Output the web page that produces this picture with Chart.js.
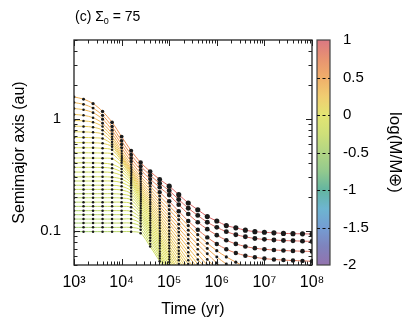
<!DOCTYPE html>
<html><head><meta charset="utf-8">
<script src="https://cdn.jsdelivr.net/npm/chart.js@4"></script>
<style>html,body{margin:0;padding:0;background:#fff}#wrap{width:407px;height:325px;position:relative}</style>
</head><body><div id="wrap"><canvas id="c"></canvas></div>
<script>
// ---- data ----
const timeYr = [1e3,1.585e3,2.512e3,3.981e3,6.31e3,1e4,1.585e4,2.512e4,3.981e4,6.31e4,1e5,1.585e5,2.512e5,3.981e5,6.31e5,1e6,1.585e6,2.512e6,3.981e6,6.31e6,1e7,1.585e7,2.512e7,3.981e7,6.31e7,1e8];
const xTickValues = [1e3,1e4,1e5,1e6,1e7,1e8];
const xTickText = ['10³','10⁴','10⁵','10⁶','10⁷','10⁸'];
const yTickValues = [0.1,1];
const yTickText = ['0.1','1'];
const massTickValues = [-2,-1.5,-1,-0.5,0,0.5,1];
const massTickText = ['-2','-1.5','-1','-0.5','0','0.5','1'];

const p01 = [1.56,1.49,1.36,1.16,0.927,0.692,0.518,0.407,0.339,0.288,0.251,0.211,0.178,0.155,0.135,0.123,0.112,0.107,0.102,0.0989,0.0977,0.0966,0.0955,0.095,0.0946,0.0944];
const p02 = [1.39,1.34,1.24,1.07,0.85,0.635,0.478,0.377,0.314,0.266,0.229,0.191,0.16,0.138,0.12,0.108,0.099,0.093,0.089,0.086,0.0845,0.0835,0.0825,0.082,0.0815,0.081];
const p03 = [1.23,1.2,1.13,0.99,0.79,0.59,0.445,0.35,0.29,0.245,0.209,0.172,0.142,0.12,0.104,0.092,0.083,0.077,0.073,0.0705,0.069,0.068,0.0673,0.0667,0.0663,0.066];
const p04 = [1.09,1.07,1.02,0.91,0.735,0.55,0.415,0.325,0.268,0.222,0.184,0.15,0.123,0.103,0.088,0.077,0.069,0.064,0.0605,0.0585,0.057,0.056,0.0553,0.0548,0.0544,0.054];
const p05 = [0.962,0.955,0.93,0.85,0.69,0.515,0.39,0.305,0.25,0.205,0.168,0.137,0.112,0.093,0.078,0.067,0.059,0.053,0.048,0.044];
const p06 = [0.857,0.853,0.84,0.79,0.655,0.49,0.37,0.29,0.235,0.19,0.155,0.126,0.102,0.084,0.07,0.059,0.051,0.045];
const p07 = [0.764,0.762,0.755,0.73,0.62,0.468,0.355,0.276,0.222,0.178,0.143,0.115,0.093,0.076,0.063,0.052,0.044];
const p08 = [0.681,0.68,0.676,0.665,0.59,0.453,0.343,0.264,0.21,0.167,0.133,0.106,0.085,0.069,0.056,0.046];
const p09 = [0.612,0.611,0.609,0.603,0.563,0.438,0.333,0.253,0.2,0.157,0.124,0.098,0.078,0.062,0.05,0.041];
const p10 = [0.552,0.551,0.55,0.545,0.528,0.422,0.322,0.243,0.19,0.148,0.116,0.091,0.071,0.056,0.045];
const p11 = [0.497,0.497,0.496,0.494,0.486,0.405,0.312,0.234,0.181,0.14,0.108,0.084,0.065,0.051,0.041];
const p12 = [0.447,0.447,0.446,0.445,0.44,0.382,0.3,0.225,0.173,0.132,0.101,0.078,0.06,0.047];
const p13 = [0.405,0.405,0.404,0.402,0.392,0.357,0.29,0.216,0.165,0.125,0.095,0.072,0.055,0.043];
const p14 = [0.369,0.369,0.369,0.368,0.362,0.335,0.279,0.208,0.157,0.118,0.089,0.067,0.051,0.039];
const p15 = [0.335,0.335,0.335,0.335,0.332,0.312,0.268,0.2,0.15,0.112,0.084,0.063,0.047];
const p16 = [0.304,0.304,0.304,0.304,0.302,0.29,0.256,0.192,0.143,0.106,0.079,0.059,0.044];
const p17 = [0.279,0.279,0.279,0.279,0.279,0.27,0.243,0.184,0.136,0.1,0.074,0.055,0.041];
const p18 = [0.256,0.256,0.256,0.256,0.256,0.25,0.229,0.176,0.13,0.095,0.07,0.051,0.038];
const p19 = [0.235,0.235,0.235,0.235,0.235,0.232,0.216,0.168,0.124,0.09,0.066,0.048];
const p20 = [0.215,0.215,0.215,0.215,0.215,0.213,0.203,0.16,0.118,0.086,0.062,0.045];
const p21 = [0.198,0.198,0.198,0.198,0.198,0.197,0.19,0.152,0.112,0.082,0.059,0.043];
const p22 = [0.181,0.181,0.181,0.181,0.181,0.181,0.176,0.145,0.107,0.078,0.056,0.041];
const p23 = [0.166,0.166,0.166,0.166,0.166,0.166,0.163,0.138,0.102,0.074,0.053,0.039];
const p24 = [0.152,0.152,0.152,0.152,0.152,0.152,0.15,0.131,0.097,0.07,0.05,0.037];
const p25 = [0.14,0.14,0.14,0.14,0.14,0.14,0.139,0.124,0.092,0.066,0.047];
const p26 = [0.128,0.128,0.128,0.128,0.128,0.128,0.128,0.117,0.087,0.063,0.045];
const p27 = [0.118,0.118,0.118,0.118,0.118,0.118,0.118,0.11,0.082,0.06,0.043];
const p28 = [0.108,0.108,0.108,0.108,0.108,0.108,0.108,0.103,0.077,0.057,0.041];
const p29 = [0.099,0.099,0.099,0.099,0.099,0.099,0.099,0.096,0.073,0.054,0.039];
const orbits = [p01,p02,p03,p04,p05,p06,p07,p08,p09,p10,p11,p12,p13,p14,p15,p16,p17,p18,p19,p20,p21,p22,p23,p24,p25,p26,p27,p28,p29];

// log10(M/Mearth) at start and late in each track
const massStart = [0.4,0.35,0.3,0.25,0.2,0.15,0.1,0.05,0,-0.05,-0.1,-0.12,-0.15,-0.18,-0.2,-0.22,-0.25,-0.27,-0.3,-0.32,-0.35,-0.37,-0.4,-0.42,-0.45,-0.47,-0.5,-0.52,-0.55];
const massEnd = [0.95,0.9,0.85,0.8,0.5,0.45,0.45,0.4,0.4,0.35,0.3,0.3,0.25,0.22,0.2,0.18,0.16,0.14,0.12,0.1,0.08,0.06,0.04,0.02,0,-0.02,-0.04,-0.06,-0.08];

// ---- style ----
const FONT = '"Liberation Sans", Arial, Helvetica, sans-serif';
const cmapStops = [[-2,[128,90,160]],[-1.75,[104,110,178]],[-1.5,[92,140,204]],[-1.25,[84,168,200]],[-1,[72,168,144]],[-0.75,[128,192,122]],[-0.5,[164,206,110]],[-0.25,[198,218,98]],[0,[222,224,90]],[0.25,[238,196,88]],[0.5,[238,160,80]],[0.75,[228,128,88]],[1,[212,96,108]]];
function cmap(m, a){
  m = Math.max(-2, Math.min(1, m));
  for (let k=0;k<cmapStops.length-1;k++){
    const [m0,c0]=cmapStops[k],[m1,c1]=cmapStops[k+1];
    if (m<=m1){ const f=(m-m0)/(m1-m0); const c=c0.map((v,q)=>Math.round(v+(c1[q]-v)*f)); return `rgba(${c[0]},${c[1]},${c[2]},${a===undefined?1:a})`; }
  }
  const c=cmapStops[cmapStops.length-1][1]; return `rgb(${c[0]},${c[1]},${c[2]})`;
}
function massAt(i,j){ const f=Math.min(1,j/10); return massStart[i]+(massEnd[i]-massStart[i])*f; }

const datasets = orbits.map((orb,i)=>({
  data: orb.map((a,j)=>({x:timeYr[j], y:a})),
  borderWidth: 1,
  borderColor: cmap(massStart[i]),
  segment: { borderColor: ctx => cmap(massAt(i, ctx.p0DataIndex)) },
  pointRadius: ctx => { const m = massAt(i, ctx.dataIndex); return 1.25 + Math.max(0, m-0.35)*2.2; },
  pointBackgroundColor: '#1a1a1a',
  pointBorderWidth: 0,
  tension: 0.3,
  yAxisID: 'y', xAxisID: 'x'
}));
datasets.reverse();

const framePlugin = {
  id: 'frame',
  afterDatasetsDraw(chart){
    const {ctx, chartArea:{left,right,top,bottom}, scales:{x,y,cb}} = chart;
    ctx.save();
    ctx.strokeStyle = '#222'; ctx.lineWidth = 1;
    ctx.beginPath();
    for (let d=3; d<=8; d++) for (let k=1;k<10;k++){
      const v = k*Math.pow(10,d); if (v>1e8*1.0001) break;
      const px = Math.round(x.getPixelForValue(v))+0.5; const L = k===1?6:3.5;
      ctx.moveTo(px,bottom); ctx.lineTo(px,bottom-L);
      ctx.moveTo(px,top); ctx.lineTo(px,top+L);
    }
    for (let d=-2; d<=0; d++) for (let k=1;k<10;k++){
      const v = k*Math.pow(10,d); if (v<0.05-1e-9 || v>5+1e-9) continue;
      const py = Math.round(y.getPixelForValue(v))+0.5; const L = k===1?6:3.5;
      ctx.moveTo(left,py); ctx.lineTo(left+L,py);
      ctx.moveTo(right,py); ctx.lineTo(right-L,py);
    }
    ctx.stroke();
    ctx.lineWidth = 1.3;
    ctx.strokeRect(left, top, right-left, bottom-top);
    // colour bar
    const bx0 = right+5, bx1 = right+18;
    const g = ctx.createLinearGradient(0, cb.getPixelForValue(-2), 0, cb.getPixelForValue(1));
    cmapStops.forEach(([m])=> g.addColorStop((m+2)/3, cmap(m)));
    ctx.globalAlpha = 0.85;
    ctx.fillStyle = g;
    ctx.fillRect(bx0, top, bx1-bx0, bottom-top);
    ctx.globalAlpha = 1;
    ctx.strokeStyle = '#444'; ctx.lineWidth = 1.2;
    ctx.strokeRect(bx0, top, bx1-bx0, bottom-top);
    ctx.setLineDash([3,2.5]); ctx.strokeStyle='#111'; ctx.lineWidth=1;
    ctx.beginPath();
    massTickValues.slice(1,-1).forEach(m=>{ const py=Math.round(cb.getPixelForValue(m))+0.5; ctx.moveTo(bx0,py); ctx.lineTo(bx1,py); });
    ctx.stroke(); ctx.setLineDash([]);
    // panel label
    ctx.fillStyle = '#000'; ctx.textBaseline='alphabetic'; ctx.textAlign='left';
    ctx.font = '14px '+FONT;
    let tx = left+1; const base = 21;
    ctx.fillText('(c) Σ', tx, base); tx += ctx.measureText('(c) Σ').width;
    ctx.font = '9px '+FONT; ctx.fillText('0', tx, base+3); tx += ctx.measureText('0').width;
    ctx.font = '14px '+FONT; ctx.fillText(' = 75', tx, base);
    ctx.restore();
  }
};

new Chart(document.getElementById('c'), {
  type: 'line',
  data: { datasets },
  options: {
    responsive: true, maintainAspectRatio: false, animation: false,
    layout: { padding: { top: 27, left: 0, right: 0, bottom: 0 } },
    plugins: { legend: {display:false}, tooltip: {enabled:false}, title:{display:false} },
    scales: {
      x: {
        type: 'logarithmic', min: 1e3, max: 1e8, position: 'bottom',
        grid: { display: false, drawTicks: false }, border: { display: false },
        afterBuildTicks: s => { s.ticks = xTickValues.map(v=>({value:v})); },
        ticks: { autoSkip:false, maxRotation:0, padding: 8, color:'#000', font:{family:FONT, size:16},
          callback: (v,idx) => xTickText[idx] },
        title: { display:true, text:'Time (yr)', color:'#000', font:{family:FONT, size:16}, padding:{top:0,bottom:6} },
        afterFit: s => { s.height = 60; }
      },
      y: {
        type: 'logarithmic', min: 0.05, max: 5, position: 'left',
        grid: { display: false, drawTicks: false }, border: { display: false },
        afterBuildTicks: s => { s.ticks = yTickValues.map(v=>({value:v})); },
        ticks: { autoSkip:false, padding: 13, color:'#000', font:{family:FONT, size:15},
          callback: (v,idx) => yTickText[idx] },
        title: { display:true, text:'Semimajor axis (au)', color:'#000', font:{family:FONT, size:16}, padding:{top:10,bottom:0} },
        afterFit: s => { s.width = 74; }
      },
      cb: {
        type: 'linear', min: -2, max: 1, position: 'right',
        grid: { display: false, drawTicks: false }, border: { display: false },
        afterBuildTicks: s => { s.ticks = massTickValues.map(v=>({value:v})); },
        ticks: { autoSkip:false, padding: 31, color:'#000', font:{family:FONT, size:15},
          callback: (v,idx) => massTickText[idx] },
        title: { display:true, text:'log(M/M⊕)', color:'#000', font:{family:FONT, size:17}, padding:{top:2,bottom:0} },
        afterFit: s => { s.width = 95; }
      }
    }
  },
  plugins: [framePlugin]
});
</script></body></html>
